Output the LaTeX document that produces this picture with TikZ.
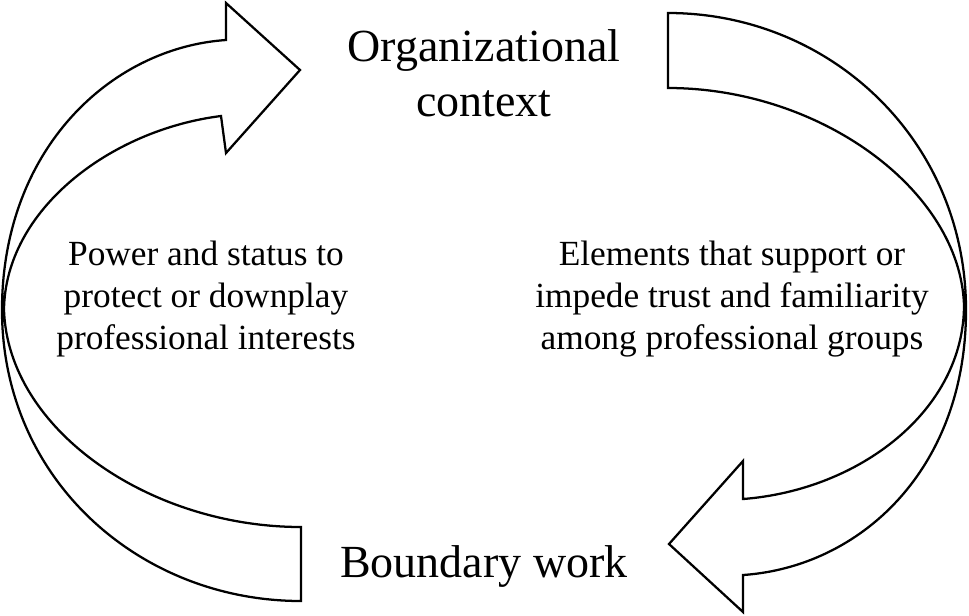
\documentclass[tikz,border=0pt]{standalone}
\usepackage{fontspec}
\setmainfont{Liberation Serif}
\begin{document}
\begin{tikzpicture}[x=0.75pt,y=-0.75pt,
  arr/.style={draw=black,line width=1.7pt,line join=miter,fill=white},
  big/.style={font=\fontsize{34.5}{41}\selectfont,align=center},
  small/.style={font=\fontsize{26.5}{31.5}\selectfont,align=center}]
\useasboundingbox (0,0) rectangle (969,615);
% left arrow
\draw[arr] (301,601) .. controls (140,601) and (2,480) .. (2,310)
  .. controls (2,150) and (110,48) .. (226,40) -- (226,3) -- (300,70) -- (226,153) -- (221,116)
  .. controls (110,130) and (5,210) .. (4,310)
  .. controls (8,430) and (150,527) .. (301,527) -- cycle;
% right arrow
\draw[arr] (668,13) .. controls (830,13) and (966,140) .. (966,310)
  .. controls (966,470) and (860,567) .. (743,575) -- (743,612) -- (669,544) -- (743,461) -- (743,499)
  .. controls (860,490) and (964,410) .. (964,305)
  .. controls (960,190) and (820,88) .. (668,88) -- cycle;
\node[big] (org) at (484,73) {Organizational\\context};
\node[big] (bw) at (484,566) {Boundary work};
\node[small] (pw) at (206,299) {Power and status to\\protect or downplay\\professional interests};
\node[small] (el) at (732,299) {Elements that support or\\impede trust and familiarity\\among professional groups};
\end{tikzpicture}
\end{document}
